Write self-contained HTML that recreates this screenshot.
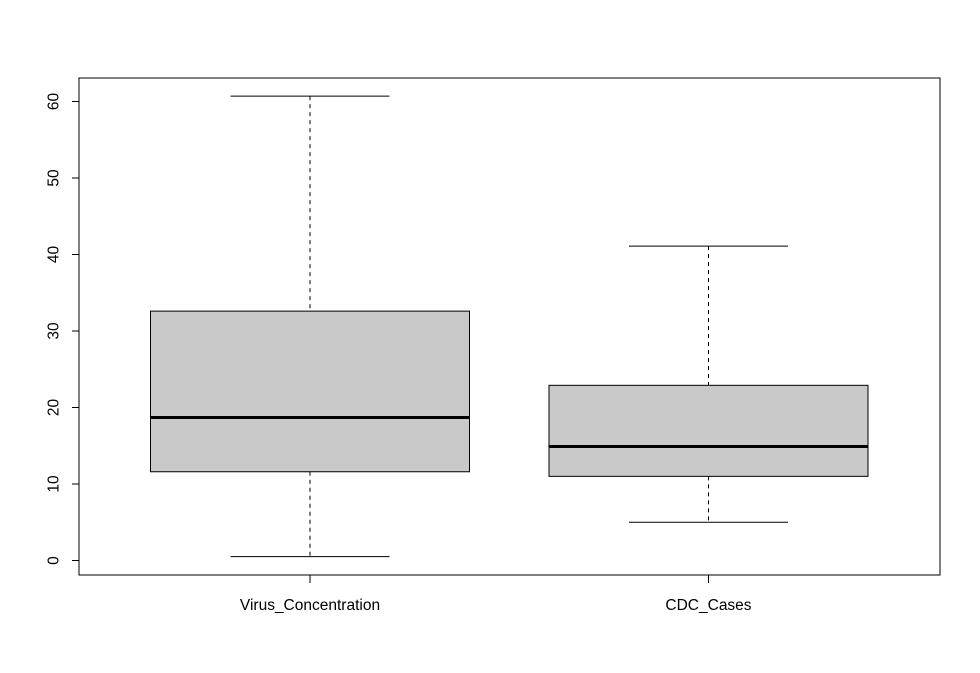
<!DOCTYPE html>
<html><head><meta charset="utf-8"><style>
html,body{margin:0;padding:0;background:#fff;}
svg{display:block;font-family:"Liberation Sans",sans-serif;}
</style></head><body>
<svg id="chart" width="980" height="673" viewBox="0 0 980 673" xmlns="http://www.w3.org/2000/svg">
<rect x="79" y="78" width="861" height="497" fill="none" stroke="#000" stroke-width="1"/>
<g id="yaxis"></g>
<g id="xaxis"></g>
<g id="boxes"></g>
</svg>
<script>
const categories = ["Virus_Concentration","CDC_Cases"];
const whiskerLow = [0.5, 5.0];
const q1 = [11.6, 11.0];
const medians = [18.7, 14.9];
const q3 = [32.6, 22.9];
const whiskerHigh = [60.7, 41.1];
const yTicks = [0,10,20,30,40,50,60];

const NS="http://www.w3.org/2000/svg";
function y(v){return 560.5-7.65*v;}
function xc(i){return 310+i*398.5;}
const halfW=159.5, capHalf=79.5;
function mk(tag,attrs,parent){const e=document.createElementNS(NS,tag);for(const k in attrs)e.setAttribute(k,attrs[k]);parent.appendChild(e);return e;}
const ya=document.getElementById('yaxis'), xa=document.getElementById('xaxis'), bx=document.getElementById('boxes');
mk('line',{x1:79,x2:79,y1:y(yTicks[0]),y2:y(yTicks[yTicks.length-1]),stroke:'#000'},ya);
yTicks.forEach(t=>{
  const l=mk('line',{x1:72,x2:79,y1:y(t),y2:y(t),stroke:'#000'},ya);
  
  
  const tx=mk('text',{x:54,y:y(t),'font-size':15.5,'text-anchor':'middle',transform:`rotate(-90 54 ${y(t)})`,'dominant-baseline':'central'},ya);
  tx.textContent=t;
  
  
});
categories.forEach((c,i)=>{
  const cx=xc(i);
  const tk=mk('line',{x1:cx,x2:cx,y1:575,y2:583,stroke:'#000'},xa);
  
  
  const tl=mk('text',{x:cx,y:610,'font-size':15.5,'text-anchor':'middle'},xa);
  tl.textContent=c;
  
  
  const g=mk('g',{},bx);
  
  
  mk('line',{x1:cx,x2:cx,y1:y(whiskerHigh[i]),y2:y(q3[i]),stroke:'#000','stroke-dasharray':'4,4'},g);
  mk('line',{x1:cx,x2:cx,y1:y(q1[i]),y2:y(whiskerLow[i]),stroke:'#000','stroke-dasharray':'4,4'},g);
  mk('line',{x1:cx-capHalf,x2:cx+capHalf,y1:y(whiskerHigh[i]),y2:y(whiskerHigh[i]),stroke:'#000'},g);
  mk('line',{x1:cx-capHalf,x2:cx+capHalf,y1:y(whiskerLow[i]),y2:y(whiskerLow[i]),stroke:'#000'},g);
  mk('rect',{x:cx-halfW,y:y(q3[i]),width:2*halfW,height:y(q1[i])-y(q3[i]),fill:'#c9c9c9',stroke:'#000'},g);
  mk('line',{x1:cx-halfW,x2:cx+halfW,y1:y(medians[i]),y2:y(medians[i]),stroke:'#000','stroke-width':3},g);
});
</script>
</body></html>
